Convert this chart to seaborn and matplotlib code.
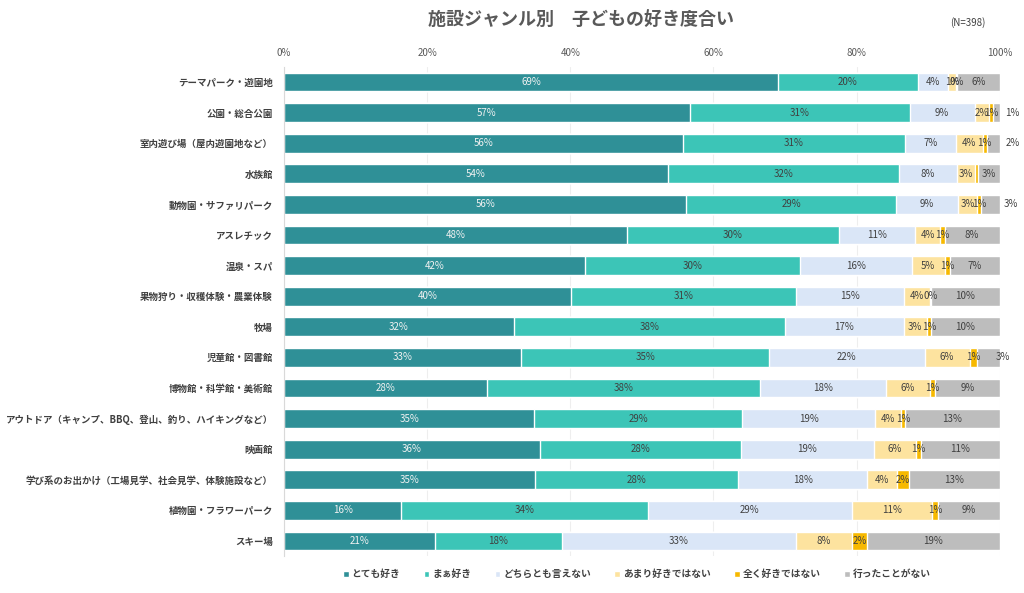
import numpy as np
import pandas as pd
import seaborn as sns
import matplotlib.pyplot as plt

# categories (top to bottom)
facilities = ['テーマパーク・遊園地', '公園・総合公園', '室内遊び場（屋内遊園地など）', '水族館',
              '動物園・サファリパーク', 'アスレチック', '温泉・スパ', '果物狩り・収穫体験・農業体験',
              '牧場', '児童館・図書館', '博物館・科学館・美術館',
              'アウトドア（キャンプ、BBQ、登山、釣り、ハイキングなど）', '映画館',
              '学び系のお出かけ（工場見学、社会見学、体験施設など）', '植物園・フラワーパーク', 'スキー場']

answers = ['とても好き', 'まぁ好き', 'どちらとも言えない', 'あまり好きではない', '全く好きではない', '行ったことがない']

# shares in %
very_like = [69.0, 56.7, 55.8, 53.6, 56.2, 47.9, 42.0, 40.1, 32.1, 33.1, 28.4, 35.0, 35.8, 35.1, 16.4, 21.1]
like = [19.6, 30.7, 30.9, 32.3, 29.3, 29.6, 30.1, 31.4, 37.9, 34.7, 38.1, 29.0, 28.0, 28.4, 34.4, 17.7]
neutral = [4.2, 9.1, 7.2, 8.1, 8.7, 10.6, 15.6, 15.1, 16.6, 21.7, 17.6, 18.6, 18.6, 17.9, 28.6, 32.7]
not_much = [1.1, 2.0, 3.7, 2.6, 2.6, 3.6, 4.6, 3.6, 3.2, 6.3, 6.1, 3.6, 5.9, 4.3, 11.2, 7.9]
not_at_all = [0.1, 0.6, 0.6, 0.3, 0.6, 0.6, 0.7, 0.2, 0.6, 1.0, 0.8, 0.6, 0.7, 1.6, 0.8, 2.0]
never_been = [6.0, 0.9, 1.8, 3.1, 2.6, 7.7, 7.0, 9.6, 9.6, 3.2, 9.0, 13.2, 11.0, 12.7, 8.6, 18.6]

colors = ['#2f9097', '#3cc5b7', '#dae6f7', '#fde39f', '#f7b900', '#bdbdbd']
text_colors = ['#f2f2f2', '#404040', '#404040', '#404040', '#404040', '#404040']

df = pd.DataFrame({'facility': facilities, answers[0]: very_like, answers[1]: like,
                   answers[2]: neutral, answers[3]: not_much, answers[4]: not_at_all,
                   answers[5]: never_been})
vals = df[answers].to_numpy()
cum = np.cumsum(vals, axis=1)

sns.set_style('white')
plt.rcParams['font.family'] = ['Noto Sans CJK JP', 'DejaVu Sans']

fig = plt.figure(figsize=(10.24, 5.93), dpi=100)
ax = fig.add_axes([0.2773, 0.0619, 0.699, 0.8256])

# stacked bars: draw cumulative totals from the right-most segment down
for i in range(len(answers) - 1, -1, -1):
    sns.barplot(x=cum[:, i], y=df['facility'], order=facilities, color=colors[i],
                width=0.62, orient='h', saturation=1, ax=ax, label=answers[i])
if ax.get_legend() is not None:
    ax.get_legend().remove()

# segment labels
outside = {1: 101.8, 2: 101.8, 4: 101.6, 9: 100.4}
for r in range(len(facilities)):
    for i in range(len(answers)):
        v = vals[r, i]
        x = cum[r, i] - v / 2
        if i == 5 and r in outside:
            x = outside[r]
        if i == 4 and r == 3:
            continue
        ax.text(x, r, f'{v:.0f}%', ha='center', va='center', fontsize=7,
                color=text_colors[i])

ax.set_xlim(0, 100)
ax.set_ylim(len(facilities) - 0.5, -0.5)
ax.set_xticks(range(0, 101, 20))
ax.set_xticklabels([f'{t}%' for t in range(0, 101, 20)], fontsize=7, color='#595959')
ax.xaxis.tick_top()
ax.tick_params(axis='x', length=0, pad=6)
ax.tick_params(axis='y', length=0, labelsize=6.8, labelcolor='#404040', pad=8)
for t in ax.get_yticklabels():
    t.set_fontweight('bold')
ax.set_xlabel('')
ax.set_ylabel('')
ax.set_axisbelow(True)
ax.xaxis.grid(True, color='#eeeeee', linewidth=0.8)
for s in ['top', 'right', 'bottom']:
    ax.spines[s].set_visible(False)
ax.spines['left'].set_color('#d9d9d9')
ax.spines['left'].set_linewidth(0.8)

fig.text(0.567, 0.967, '施設ジャンル別　子どもの好き度合い', ha='center', va='center',
         fontsize=13, color='#595959', fontweight='bold')
fig.text(0.945, 0.962, '(N=398)', ha='center', va='center', fontsize=7, color='#404040')

handles, labels = ax.get_legend_handles_labels()
handles, labels = handles[::-1], labels[::-1]
leg = fig.legend(handles, labels, loc='center', bbox_to_anchor=(0.622, 0.032), ncol=6,
                 frameon=False, fontsize=7, handlelength=0.6, handleheight=0.6,
                 handletextpad=0.3, columnspacing=2.4)
for t in leg.get_texts():
    t.set_color('#404040')
    t.set_fontweight('bold')

fig.savefig('out.png', dpi=100)
